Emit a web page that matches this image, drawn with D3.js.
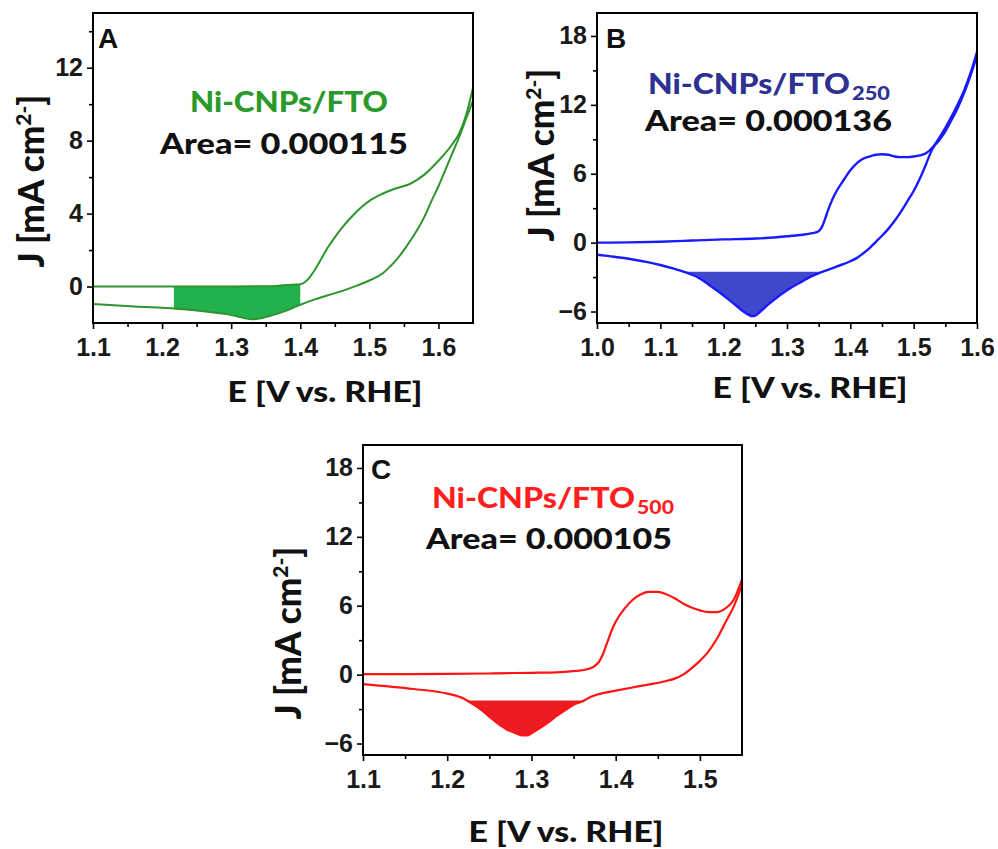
<!DOCTYPE html>
<html>
<head>
<meta charset="utf-8">
<script src="https://cdn.jsdelivr.net/npm/d3@7"></script>
<style>
  html, body { margin: 0; padding: 0; background: #ffffff; }
  svg { display: block; }
</style>
</head>
<body>
<svg id="fig" width="998" height="849"></svg>
<script>
// ---------- Panel A: Ni-CNPs/FTO ----------
const aFwdE = [1.10, 1.20, 1.30, 1.36, 1.38, 1.40, 1.41, 1.42, 1.43, 1.44, 1.45, 1.46, 1.47, 1.48, 1.49, 1.50, 1.52, 1.54, 1.56, 1.58, 1.60, 1.62, 1.63, 1.64, 1.65];
const aFwdJ = [0.00, 0.00, 0.00, 0.02, 0.08, 0.12, 0.35, 0.85, 1.50, 2.15, 2.70, 3.20, 3.65, 4.05, 4.40, 4.70, 5.10, 5.40, 5.65, 6.15, 6.90, 7.80, 8.40, 9.40, 10.90];
const aRevE = [1.65, 1.64, 1.63, 1.62, 1.61, 1.60, 1.59, 1.58, 1.57, 1.56, 1.55, 1.54, 1.53, 1.52, 1.50, 1.48, 1.46, 1.44, 1.42, 1.40, 1.38, 1.36, 1.34, 1.33, 1.32, 1.30, 1.28, 1.25, 1.22, 1.16, 1.10];
const aRevJ = [10.2, 9.2, 8.2, 7.3, 6.4, 5.5, 4.7, 3.85, 3.15, 2.55, 2.0, 1.5, 1.1, 0.74, 0.33, 0.02, -0.25, -0.48, -0.72, -1.0, -1.32, -1.57, -1.76, -1.80, -1.74, -1.56, -1.45, -1.32, -1.22, -1.10, -0.96];
const aFillRange = [1.217, 1.40];
const aXTicks = [1.1, 1.2, 1.3, 1.4, 1.5, 1.6];
const aXMinor = [1.15, 1.25, 1.35, 1.45, 1.55];
const aYTicks = [0, 4, 8, 12];
const aYMinor = [2, 6, 10, 14];
const aTitle = "Ni-CNPs/FTO";
const aArea = "Area= 0.000115";

// ---------- Panel B: Ni-CNPs/FTO250 ----------
const bFwdE = [1.00, 1.05, 1.10, 1.15, 1.20, 1.25, 1.28, 1.30, 1.32, 1.34, 1.35, 1.355, 1.36, 1.365, 1.37, 1.375, 1.38, 1.39, 1.40, 1.41, 1.42, 1.43, 1.44, 1.45, 1.46, 1.47, 1.48, 1.49, 1.50, 1.51, 1.52, 1.53, 1.54, 1.55, 1.56, 1.57, 1.58, 1.59, 1.60];
const bFwdJ = [0.00, 0.02, 0.08, 0.18, 0.28, 0.36, 0.45, 0.55, 0.66, 0.82, 1.00, 1.35, 2.05, 2.85, 3.55, 4.15, 4.65, 5.50, 6.30, 6.90, 7.30, 7.50, 7.65, 7.70, 7.65, 7.50, 7.45, 7.45, 7.50, 7.60, 7.80, 8.30, 9.10, 10.0, 11.0, 12.1, 13.3, 14.8, 16.6];
const bRevE = [1.60, 1.59, 1.58, 1.57, 1.56, 1.55, 1.54, 1.53, 1.52, 1.51, 1.50, 1.49, 1.48, 1.47, 1.46, 1.45, 1.44, 1.43, 1.42, 1.41, 1.40, 1.38, 1.36, 1.34, 1.32, 1.30, 1.28, 1.27, 1.26, 1.25, 1.245, 1.24, 1.23, 1.22, 1.21, 1.20, 1.18, 1.16, 1.14, 1.12, 1.10, 1.08, 1.05, 1.02, 1.00];
const bRevJ = [16.3, 14.6, 13.1, 11.8, 10.7, 9.7, 8.9, 8.2, 6.9, 5.6, 4.5, 3.6, 2.7, 1.9, 1.2, 0.6, 0.05, -0.5, -0.95, -1.35, -1.62, -2.05, -2.45, -2.90, -3.50, -4.15, -4.95, -5.40, -5.90, -6.35, -6.40, -6.30, -5.95, -5.50, -5.05, -4.60, -3.80, -3.05, -2.60, -2.25, -1.95, -1.70, -1.40, -1.18, -1.05];
const bFillLevel = -2.54;
const bXTicks = [1.0, 1.1, 1.2, 1.3, 1.4, 1.5, 1.6];
const bXMinor = [1.05, 1.15, 1.25, 1.35, 1.45, 1.55];
const bYTicks = [-6, 0, 6, 12, 18];
const bYMinor = [-3, 3, 9, 15];
const bTitle = "Ni-CNPs/FTO";
const bTitleSub = "250";
const bArea = "Area= 0.000136";

// ---------- Panel C: Ni-CNPs/FTO500 ----------
const cFwdE = [1.10, 1.15, 1.20, 1.25, 1.28, 1.30, 1.33, 1.35, 1.36, 1.37, 1.375, 1.38, 1.385, 1.39, 1.395, 1.40, 1.41, 1.42, 1.43, 1.44, 1.45, 1.46, 1.47, 1.48, 1.49, 1.50, 1.51, 1.52, 1.53, 1.54, 1.55];
const cFwdJ = [0.05, 0.05, 0.06, 0.10, 0.14, 0.16, 0.20, 0.30, 0.38, 0.55, 0.75, 1.10, 1.80, 2.80, 3.80, 4.60, 5.70, 6.50, 7.00, 7.20, 7.20, 7.00, 6.65, 6.20, 5.85, 5.60, 5.45, 5.45, 5.75, 6.50, 8.30];
const cRevE = [1.55, 1.54, 1.53, 1.52, 1.51, 1.50, 1.49, 1.48, 1.47, 1.46, 1.44, 1.42, 1.40, 1.38, 1.37, 1.36, 1.35, 1.34, 1.33, 1.32, 1.31, 1.30, 1.295, 1.29, 1.28, 1.27, 1.26, 1.25, 1.24, 1.23, 1.22, 1.20, 1.16, 1.10];
const cRevJ = [7.8, 5.9, 4.5, 3.1, 2.0, 1.2, 0.55, 0.0, -0.35, -0.55, -0.85, -1.12, -1.40, -1.70, -1.95, -2.35, -2.62, -3.10, -3.60, -4.15, -4.65, -5.10, -5.30, -5.30, -5.05, -4.75, -4.25, -3.65, -3.05, -2.55, -2.10, -1.65, -1.25, -0.82];
const cFillLevel = -2.25;
const cXTicks = [1.1, 1.2, 1.3, 1.4, 1.5];
const cXMinor = [1.15, 1.25, 1.35, 1.45];
const cYTicks = [-6, 0, 6, 12, 18];
const cYMinor = [-3, 3, 9, 15];
const cTitle = "Ni-CNPs/FTO";
const cTitleSub = "500";
const cArea = "Area= 0.000105";

const xLabel = "E [V vs. RHE]";

// ---------- helpers ----------
const svg = d3.select("#fig");
const textFont = "Lato, 'Open Sans', 'DejaVu Sans', sans-serif";
const tickFont = "'Liberation Sans', Arial, sans-serif";

function toPoints(E, J) {
  return E.map((e, i) => [e, J[i]]).sort((p, q) => p[0] - q[0]);
}

function interpAt(pts, e) {
  for (let i = 0; i < pts.length - 1; i++) {
    const [e0, j0] = pts[i], [e1, j1] = pts[i + 1];
    if (e >= e0 && e <= e1) return j0 + (j1 - j0) * (e - e0) / (e1 - e0);
  }
  return pts[e < pts[0][0] ? 0 : pts.length - 1][1];
}

// Region of a branch that lies below a horizontal level, around its minimum
function dipBelow(pts, level) {
  let k = 0;
  pts.forEach((p, i) => { if (p[1] < pts[k][1]) k = i; });
  let l = k; while (l > 0 && pts[l - 1][1] < level) l--;
  let r = k; while (r < pts.length - 1 && pts[r + 1][1] < level) r++;
  const cross = (a, b) => a[0] + (b[0] - a[0]) * (level - a[1]) / (b[1] - a[1]);
  const out = [];
  if (l > 0) out.push({ e: cross(pts[l - 1], pts[l]), lo: level, hi: level });
  for (let i = l; i <= r; i++) out.push({ e: pts[i][0], lo: pts[i][1], hi: level });
  if (r < pts.length - 1) out.push({ e: cross(pts[r], pts[r + 1]), lo: level, hi: level });
  return out;
}

// Region enclosed between two branches over an interval of E
function between(lowerPts, upperPts, range) {
  const es = [range[0], ...lowerPts.map(p => p[0]).filter(e => e > range[0] && e < range[1]), range[1]];
  return es.sort((a, b) => a - b).map(e => ({ e, lo: interpAt(lowerPts, e), hi: interpAt(upperPts, e) }));
}

function drawPanel(p) {
  const g = svg.append("g");
  const x = d3.scaleLinear().domain(p.xDomain).range([p.left, p.right]);
  const y = d3.scaleLinear().domain(p.yDomain).range([p.bottom, p.top]);

  const clipId = "clip-" + p.id;
  svg.append("defs").append("clipPath").attr("id", clipId)
    .append("rect").attr("x", p.left).attr("y", p.top)
    .attr("width", p.right - p.left).attr("height", p.bottom - p.top);

  const fwd = toPoints(p.fwdE, p.fwdJ);
  const rev = toPoints(p.revE, p.revJ);

  // shaded reduction-peak region
  const region = p.fillLevel !== undefined ? dipBelow(rev, p.fillLevel) : between(rev, fwd, p.fillRange);
  g.append("path")
    .datum(region)
    .attr("clip-path", `url(#${clipId})`)
    .attr("fill", p.fillColor)
    .attr("d", d3.area().x(d => x(d.e)).y0(d => y(d.lo)).y1(d => y(d.hi)).curve(d3.curveMonotoneX));

  // voltammogram branches
  const line = d3.line().x(d => x(d[0])).y(d => y(d[1])).curve(d3.curveMonotoneX);
  [fwd, rev].forEach(branch => {
    g.append("path").datum(branch)
      .attr("clip-path", `url(#${clipId})`)
      .attr("fill", "none").attr("stroke", p.lineColor)
      .attr("stroke-width", p.lineWidth).attr("stroke-linejoin", "round")
      .attr("d", line);
  });

  // axes
  const styleAxis = sel => {
    sel.select(".domain").remove();
    sel.selectAll(".tick line").attr("stroke", "#000").attr("stroke-width", 1.6);
    sel.selectAll(".tick text")
      .attr("fill", "#1a1a1a")
      .style("font-family", tickFont).style("font-size", "25px").style("font-weight", "bold");
  };
  g.append("g").attr("transform", `translate(0,${p.bottom})`)
    .call(d3.axisBottom(x).tickValues(p.xTicks).tickSize(6).tickPadding(9).tickFormat(d3.format(".1f")))
    .call(styleAxis);
  g.append("g").attr("transform", `translate(0,${p.bottom})`)
    .call(d3.axisBottom(x).tickValues(p.xMinor).tickSize(4).tickFormat(""))
    .call(styleAxis);
  g.append("g").attr("transform", `translate(${p.left},0)`)
    .call(d3.axisLeft(y).tickValues(p.yTicks).tickSize(6).tickPadding(4).tickFormat(d3.format("d")))
    .call(styleAxis);
  g.append("g").attr("transform", `translate(${p.left},0)`)
    .call(d3.axisLeft(y).tickValues(p.yMinor).tickSize(4).tickFormat(""))
    .call(styleAxis);

  // frame
  g.append("rect")
    .attr("x", p.left).attr("y", p.top)
    .attr("width", p.right - p.left).attr("height", p.bottom - p.top)
    .attr("fill", "none").attr("stroke", "#000").attr("stroke-width", 2);

  // panel letter
  g.append("text").attr("x", p.letterX).attr("y", p.letterY)
    .style("font-family", tickFont).style("font-size", "28px").style("font-weight", "bold")
    .attr("fill", "#111").text(p.letter);

  // sample name
  g.append("text").attr("x", p.titleX).attr("y", p.titleY)
    .style("font-family", textFont).style("font-size", "28px").style("font-weight", "900")
    .attr("fill", p.titleColor)
    .attr("textLength", p.titleLen).attr("lengthAdjust", "spacingAndGlyphs")
    .text(p.title);
  if (p.titleSub) {
    g.append("text").attr("x", p.titleX + p.titleLen + 2).attr("y", p.titleY + 6)
      .style("font-family", textFont).style("font-size", "18px").style("font-weight", "900")
      .attr("fill", p.titleColor)
      .attr("textLength", p.subLen).attr("lengthAdjust", "spacingAndGlyphs")
      .text(p.titleSub);
  }

  // integrated area
  g.append("text").attr("x", p.areaX).attr("y", p.areaY)
    .style("font-family", textFont).style("font-size", "28px").style("font-weight", "900")
    .attr("fill", "#111")
    .attr("textLength", p.areaLen).attr("lengthAdjust", "spacingAndGlyphs")
    .text(p.area);

  // x-axis title
  g.append("text").attr("x", p.xLabelX).attr("y", p.xLabelY)
    .attr("text-anchor", "middle")
    .style("font-family", textFont).style("font-size", "29px").style("font-weight", "900")
    .attr("fill", "#111")
    .attr("textLength", 195).attr("lengthAdjust", "spacingAndGlyphs")
    .text(xLabel);

  // y-axis title, sized so its run along the axis spans the target length
  const yl = g.append("text")
    .attr("text-anchor", "middle")
    .style("font-family", textFont).style("font-weight", "900")
    .attr("fill", "#111");
  const main1 = yl.append("tspan").text("J [mA cm");
  const sup = yl.append("tspan").text("2-");
  const main2 = yl.append("tspan").text("]");
  const setSize = s => {
    yl.style("font-size", s + "px");
    sup.style("font-size", (s * 0.6) + "px").attr("dy", -s * 0.36);
    main2.attr("dy", s * 0.36);
  };
  setSize(28);
  const w = yl.node().getBBox().width;
  const s = 28 * 173 / w;
  setSize(s);
  yl.attr("transform", `translate(${p.yLabelX},${p.yLabelY}) rotate(-90)`);
}

drawPanel({
  id: "a", left: 93, right: 473, top: 13, bottom: 323,
  xDomain: [1.1, 1.65], yDomain: [-2, 15],
  fwdE: aFwdE, fwdJ: aFwdJ, revE: aRevE, revJ: aRevJ, fillRange: aFillRange,
  xTicks: aXTicks, xMinor: aXMinor, yTicks: aYTicks, yMinor: aYMinor,
  lineColor: "#2e952e", lineWidth: 2, fillColor: "#22b14c",
  letter: "A", letterX: 98, letterY: 48,
  title: aTitle, titleColor: "#2a9a2a", titleX: 190, titleY: 112, titleLen: 198,
  area: aArea, areaX: 160, areaY: 154, areaLen: 248,
  xLabelX: 325, xLabelY: 402, yLabelX: 44, yLabelY: 181
});

drawPanel({
  id: "b", left: 597, right: 977, top: 13, bottom: 323,
  xDomain: [1.0, 1.6], yDomain: [-7, 20],
  fwdE: bFwdE, fwdJ: bFwdJ, revE: bRevE, revJ: bRevJ, fillLevel: bFillLevel,
  xTicks: bXTicks, xMinor: bXMinor, yTicks: bYTicks, yMinor: bYMinor,
  lineColor: "#1a1aff", lineWidth: 2.4, fillColor: "#3f48cc",
  letter: "B", letterX: 606, letterY: 48,
  title: bTitle, titleSub: bTitleSub, titleColor: "#2e3192", titleX: 648, titleY: 94, titleLen: 202, subLen: 38,
  area: bArea, areaX: 645, areaY: 131, areaLen: 247,
  xLabelX: 810, xLabelY: 398, yLabelX: 554, yLabelY: 155
});

drawPanel({
  id: "c", left: 363, right: 742, top: 445, bottom: 755,
  xDomain: [1.1, 1.55], yDomain: [-7, 20],
  fwdE: cFwdE, fwdJ: cFwdJ, revE: cRevE, revJ: cRevJ, fillLevel: cFillLevel,
  xTicks: cXTicks, xMinor: cXMinor, yTicks: cYTicks, yMinor: cYMinor,
  lineColor: "#ff1414", lineWidth: 2.2, fillColor: "#ed1c24",
  letter: "C", letterX: 371, letterY: 479,
  title: cTitle, titleSub: cTitleSub, titleColor: "#ff1f1f", titleX: 432, titleY: 508, titleLen: 203, subLen: 37,
  area: cArea, areaX: 426, areaY: 549, areaLen: 246,
  xLabelX: 566, xLabelY: 842, yLabelX: 301, yLabelY: 633
});
</script>
</body>
</html>
